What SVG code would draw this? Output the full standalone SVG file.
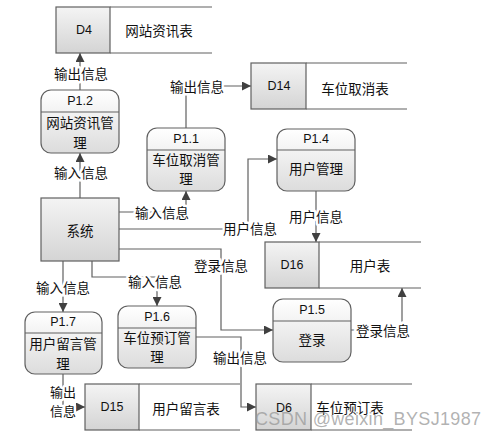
<svg xmlns="http://www.w3.org/2000/svg" width="496" height="438" viewBox="0 0 496 438">
<defs>
<linearGradient id="gp" x1="0" y1="0" x2="0" y2="1">
<stop offset="0" stop-color="#ffffff"/><stop offset="1" stop-color="#dcdcdc"/>
</linearGradient>
<linearGradient id="gs" x1="0" y1="0" x2="0" y2="1">
<stop offset="0" stop-color="#f4f4f4"/><stop offset="1" stop-color="#d4d4d4"/>
</linearGradient>
<marker id="ah" viewBox="0 0 10 10" refX="10" refY="5" markerWidth="9" markerHeight="9" markerUnits="userSpaceOnUse" orient="auto">
<path d="M0,0 L10,5 L0,10 z" fill="#404040"/>
</marker>
</defs>
<style>
.box{fill:url(#gp);stroke:#606060;stroke-width:1.2}
.cell{fill:url(#gs);stroke:#606060;stroke-width:1.2}
.ln{fill:none;stroke:#606060;stroke-width:1.2}
.zh{font-family:"Noto Sans CJK SC","Noto Sans",sans-serif;font-size:13.5px;fill:#111;text-anchor:middle;dominant-baseline:central}
.en{font-family:"Liberation Sans",Arial,sans-serif;font-size:12.5px;fill:#111;text-anchor:middle;dominant-baseline:central}
.lbl{paint-order:stroke;stroke:#fff;stroke-width:5px;stroke-linejoin:round}
.con{fill:none;stroke:#606060;stroke-width:1.2;marker-end:url(#ah)}
</style>
<rect width="496" height="438" fill="#fff"/>

<g id="connectors">
<path class="con" d="M80,90 V53"/>
<path class="con" d="M80,198 V153"/>
<path class="con" d="M186,128 V86 H251"/>
<path class="con" d="M119,212 H186 V191"/>
<path class="con" d="M119,229 H248 V159 H277"/>
<path class="con" d="M316,191 V242"/>
<path class="con" d="M119,249 H221 V330 H273"/>
<path class="con" d="M351,330 H402 V288"/>
<path class="con" d="M63,261 V312"/>
<path class="con" d="M92,261 V277 H157 V306"/>
<path class="con" d="M63,374 V407 H85"/>
<path class="con" d="M196,337 H241 V407 H256"/>
<text class="zh lbl" x="81" y="73">输出信息</text>
<text class="zh lbl" x="81" y="172">输入信息</text>
<text class="zh lbl" x="197" y="86">输出信息</text>
<text class="zh lbl" x="162" y="212">输入信息</text>
<text class="zh lbl" x="250" y="228">用户信息</text>
<text class="zh lbl" x="316" y="216">用户信息</text>
<text class="zh lbl" x="221" y="265">登录信息</text>
<text class="zh lbl" x="383" y="330">登录信息</text>
<text class="zh lbl" x="63" y="287">输入信息</text>
<text class="zh lbl" x="155" y="281">输入信息</text>
<text class="zh lbl" x="63" y="391" style="font-size:13px">输出</text>
<text class="zh lbl" x="63" y="410" style="font-size:13px">信息</text>
<text class="zh lbl" x="240" y="357">输出信息</text>
</g>

<g id="D4">
<rect class="cell" x="56" y="7" width="54" height="46"/>
<path class="ln" d="M110,7 H212 M110,53 H212"/>
<text class="en" x="84" y="30">D4</text>
<text class="zh" x="159" y="30">网站资讯表</text>
</g>

<g id="D14">
<rect class="cell" x="251" y="63" width="55" height="46"/>
<path class="ln" d="M306,63 H407 M306,109 H407"/>
<text class="en" x="279" y="86">D14</text>
<text class="zh" x="355" y="88">车位取消表</text>
</g>

<g id="D16">
<rect class="cell" x="265" y="242" width="54" height="46"/>
<path class="ln" d="M319,242 H421 M319,288 H421"/>
<text class="en" x="292" y="265">D16</text>
<text class="zh" x="370" y="265">用户表</text>
</g>

<g id="D15">
<rect class="cell" x="85" y="384" width="54" height="46"/>
<path class="ln" d="M139,384 H240 M139,430 H240"/>
<text class="en" x="112" y="407">D15</text>
<text class="zh" x="186" y="408">用户留言表</text>
</g>

<g id="D6">
<rect class="cell" x="256" y="384" width="55" height="46"/>
<path class="ln" d="M311,384 H412 M311,430 H412"/>
<text class="en" x="284" y="408">D6</text>
<text class="zh" x="350" y="407">车位预订表</text>
</g>

<g id="P1.2">
<rect class="box" x="41" y="90" width="78" height="63" rx="10"/>
<path class="ln" d="M41,112 H119"/>
<text class="en" x="80" y="101">P1.2</text>
<text class="zh" x="80" y="122">网站资讯管</text>
<text class="zh" x="80" y="142">理</text>
</g>

<g id="P1.1">
<rect class="box" x="147" y="128" width="78" height="63" rx="10"/>
<path class="ln" d="M147,150 H225"/>
<text class="en" x="186" y="139">P1.1</text>
<text class="zh" x="186" y="159">车位取消管</text>
<text class="zh" x="186" y="178">理</text>
</g>

<g id="P1.4">
<rect class="box" x="277" y="129" width="78" height="62" rx="10"/>
<path class="ln" d="M277,150 H355"/>
<text class="en" x="316" y="139">P1.4</text>
<text class="zh" x="316" y="168">用户管理</text>
</g>

<g id="系统">
<rect class="cell" x="41" y="198" width="78" height="63"/>
<text class="zh" x="80" y="230">系统</text>
</g>

<g id="P1.5">
<rect class="box" x="273" y="299" width="78" height="63" rx="10"/>
<path class="ln" d="M273,321 H351"/>
<text class="en" x="312" y="310">P1.5</text>
<text class="zh" x="312" y="339">登录</text>
</g>

<g id="P1.7">
<rect class="box" x="25" y="312" width="77" height="62" rx="10"/>
<path class="ln" d="M25,333 H102"/>
<text class="en" x="63" y="322">P1.7</text>
<text class="zh" x="63" y="343">用户留言管</text>
<text class="zh" x="63" y="363">理</text>
</g>

<g id="P1.6">
<rect class="box" x="118" y="306" width="78" height="62" rx="10"/>
<path class="ln" d="M118,328 H196"/>
<text class="en" x="157" y="317">P1.6</text>
<text class="zh" x="157" y="337">车位预订管</text>
<text class="zh" x="157" y="356">理</text>
</g>

<text x="255" y="425" textLength="226" font-family="Liberation Sans, Arial, sans-serif" font-size="18" fill="#999" fill-opacity="0.75">CSDN @weixin_BYSJ1987</text>
</svg>
